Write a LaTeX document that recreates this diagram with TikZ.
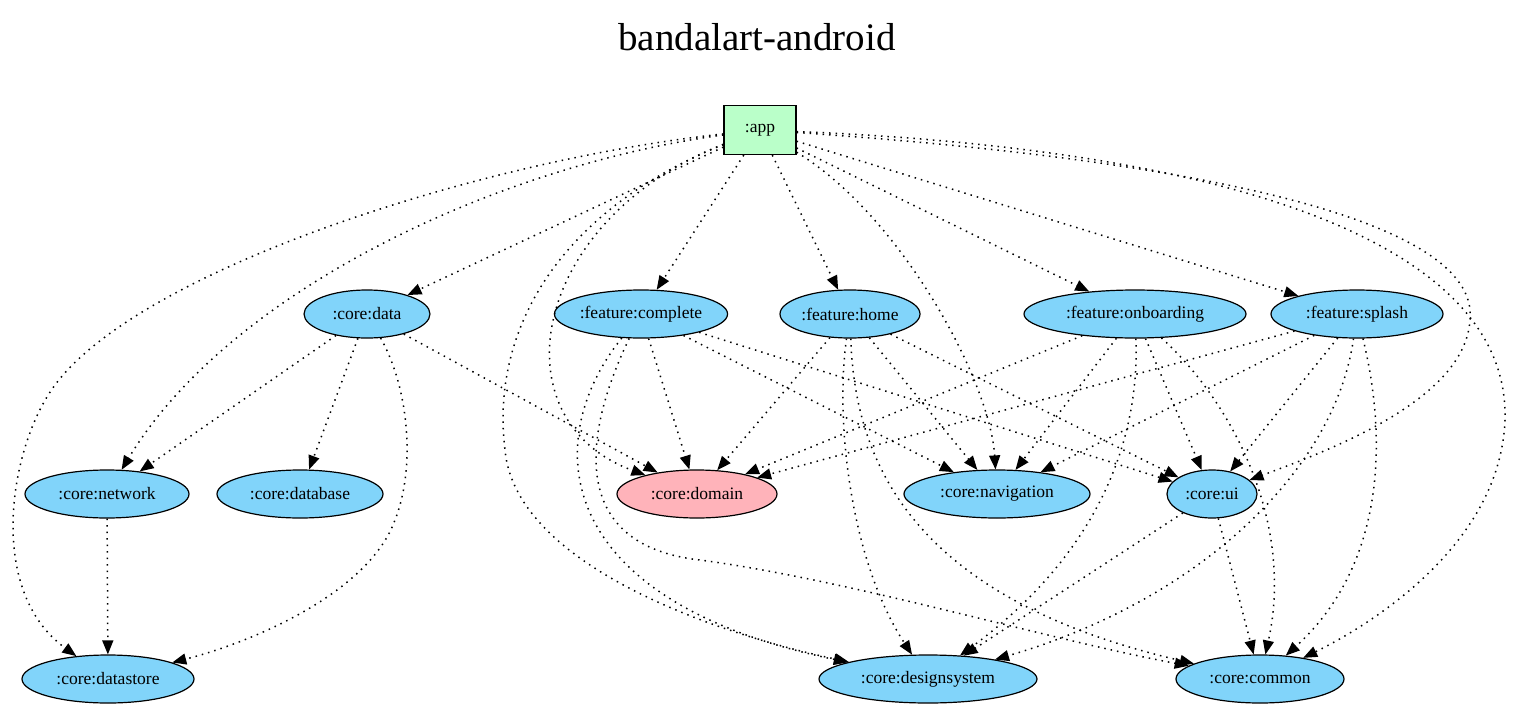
\documentclass[tikz,border=0pt]{standalone}
\usepackage{fontspec}
\setmainfont{Liberation Serif}
\usetikzlibrary{shapes.geometric,arrows.meta}
\definecolor{modblue}{HTML}{81D4FA}
\definecolor{modpink}{HTML}{FFB3BA}
\definecolor{modgreen}{HTML}{BAFFC9}
\begin{document}
\begin{tikzpicture}[x=1pt,y=-1pt,
  mod/.style={ellipse, draw=black, line width=1.2pt, fill=modblue, minimum height=48pt, inner sep=0pt, font=\fontsize{17.5}{20}\selectfont},
  appbox/.style={rectangle, draw=black, line width=1.2pt, fill=modgreen, minimum width=72pt, minimum height=49pt, inner sep=0pt, font=\fontsize{17.5}{20}\selectfont},
  dep/.style={line width=1.5pt, dash pattern=on 1.5pt off 5pt, -{Triangle[length=14pt,width=11pt]}},
]
\useasboundingbox (0,0) rectangle (1516,707);
\node[font=\fontsize{39}{44}\selectfont] (title) at (757,37) {bandalart-android};

\node[appbox] (app) at (760,130) {:app};
\node[mod, minimum width=126pt] (data) at (367,314) {:core:data};
\node[mod, minimum width=170pt] (complete) at (641,314) {:feature:complete};
\node[mod, minimum width=140pt] (home) at (850,314) {:feature:home};
\node[mod, minimum width=222pt] (onboarding) at (1135,314) {:feature:onboarding};
\node[mod, minimum width=172pt] (splash) at (1357,314) {:feature:splash};
\node[mod, minimum width=164pt] (network) at (107,494) {:core:network};
\node[mod, minimum width=166pt] (database) at (300,494) {:core:database};
\node[mod, minimum width=160pt, fill=modpink] (domain) at (697,494) {:core:domain};
\node[mod, minimum width=186pt] (navigation) at (997,494) {:core:navigation};
\node[mod, minimum width=90pt] (ui) at (1212,494) {:core:ui};
\node[mod, minimum width=172pt] (datastore) at (108,679) {:core:datastore};
\node[mod, minimum width=218pt] (designsystem) at (928,679) {:core:designsystem};
\node[mod, minimum width=168pt] (common) at (1260,679) {:core:common};

% app
\draw[dep] (app) -- (data);
\draw[dep] (app) -- (complete);
\draw[dep] (app) -- (home);
\draw[dep] (app) -- (onboarding);
\draw[dep] (app) -- (splash);
\draw[dep] (app) .. controls (480,160) and (140,270) .. (55,385) .. controls (10,445) and (-15,590) .. (datastore);
\draw[dep] (app) .. controls (500,165) and (230,290) .. (network);
\draw[dep] (app) .. controls (530,220) and (495,420) .. (domain);
\draw[dep] (app) .. controls (560,210) and (490,330) .. (505,450) .. controls (515,560) and (700,630) .. (designsystem);
\draw[dep] (app) .. controls (900,215) and (990,380) .. (navigation);
\draw[dep] (app) .. controls (1200,160) and (1480,220) .. (1470,320) .. controls (1465,400) and (1330,450) .. (ui);
\draw[dep] (app) .. controls (1250,150) and (1510,250) .. (1505,420) .. controls (1500,550) and (1360,630) .. (common);

% core:data
\draw[dep] (data) -- (network);
\draw[dep] (data) -- (database);
\draw[dep] (data) -- (domain);
\draw[dep] (data) .. controls (410,390) and (415,470) .. (395,520) .. controls (370,590) and (260,640) .. (datastore);

% feature:complete
\draw[dep] (complete) -- (domain);
\draw[dep] (complete) -- (navigation);
\draw[dep] (complete) -- (ui);
\draw[dep] (complete) .. controls (540,440) and (550,600) .. (designsystem);
\draw[dep] (complete) .. controls (585,430) and (565,545) .. (700,560) .. controls (850,580) and (1050,640) .. (common);

% feature:home
\draw[dep] (home) -- (domain);
\draw[dep] (home) -- (navigation);
\draw[dep] (home) -- (ui);
\draw[dep] (home) .. controls (835,420) and (850,560) .. (designsystem);
\draw[dep] (home) .. controls (855,470) and (920,600) .. (common);

% feature:onboarding
\draw[dep] (onboarding) -- (domain);
\draw[dep] (onboarding) -- (navigation);
\draw[dep] (onboarding) -- (ui);
\draw[dep] (onboarding) .. controls (1140,450) and (1090,560) .. (designsystem);
\draw[dep] (onboarding) .. controls (1230,400) and (1295,520) .. (common);

% feature:splash
\draw[dep] (splash) -- (domain);
\draw[dep] (splash) -- (navigation);
\draw[dep] (splash) -- (ui);
\draw[dep] (splash) .. controls (1335,470) and (1200,600) .. (designsystem);
\draw[dep] (splash) .. controls (1390,450) and (1380,570) .. (common);

% others
\draw[dep] (network) -- (datastore);
\draw[dep] (ui) -- (designsystem);
\draw[dep] (ui) -- (common);
\end{tikzpicture}
\end{document}
